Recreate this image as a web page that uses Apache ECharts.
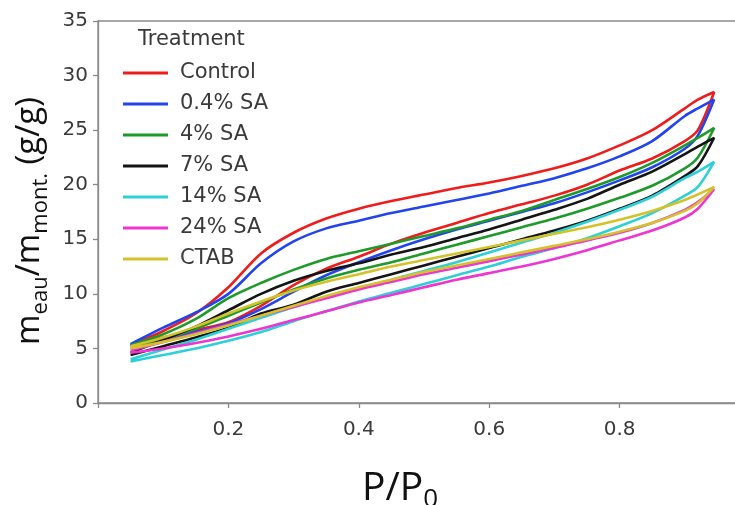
<!DOCTYPE html>
<html><head><meta charset="utf-8">
<script src="https://cdn.jsdelivr.net/npm/echarts@6/dist/echarts.min.js"></script>
<style>html,body{margin:0;padding:0;background:#fff}#c{width:735px;height:505px}</style>
</head><body><div id="c"></div>
<script>
// Relative pressure grid (P/P0)
const P = [0.05,0.1,0.15,0.2,0.25,0.3,0.35,0.4,0.45,0.5,0.55,0.6,0.65,0.7,0.75,0.8,0.85,0.9,0.92,0.945];
const names = ['Control','0.4% SA','4% SA','7% SA','14% SA','24% SA','CTAB'];
const colors = ['#f01c1c','#2244ee','#1e9a2a','#141414','#2cd0d6','#ee34d2','#d4c22a'];
// adsorption (lower) and desorption (upper) branches, g/g
const controlAds = [5.3,6.0,6.7,7.4,8.9,10.8,12.3,13.4,14.6,15.6,16.5,17.4,18.2,19.0,20.0,21.3,22.4,24.0,25.0,28.5];
const controlDes = [5.3,6.6,8.2,10.6,13.7,15.6,16.9,17.8,18.5,19.1,19.7,20.2,20.8,21.5,22.4,23.6,25.0,27.0,27.8,28.5];
const sa04Ads = [5.2,5.8,6.5,7.3,8.6,10.2,11.7,12.9,14.0,15.0,15.9,16.7,17.5,18.3,19.3,20.4,21.6,23.3,24.5,27.8];
const sa04Des = [5.4,6.9,8.3,10.0,12.8,14.8,16.0,16.7,17.4,18.0,18.6,19.2,19.9,20.6,21.5,22.6,24.0,26.3,27.0,27.8];
const sa4Ads = [5.0,5.8,6.8,8.0,9.2,10.4,11.4,12.2,12.9,13.7,14.5,15.3,16.1,16.9,17.8,18.8,19.9,21.5,22.5,25.2];
const sa4Des = [5.3,6.3,7.7,9.6,11.0,12.2,13.2,13.9,14.6,15.3,16.0,16.8,17.6,18.6,19.6,20.7,22.0,23.6,24.3,25.2];
const sa7Ads = [4.4,5.2,6.0,6.9,8.2,9.0,10.2,11.0,11.8,12.6,13.4,14.2,15.0,15.8,16.7,17.8,19.0,20.8,21.7,24.3];
const sa7Des = [4.6,5.8,7.0,8.5,10.0,11.2,12.1,12.8,13.6,14.3,15.1,15.9,16.8,17.7,18.7,20.0,21.2,22.8,23.5,24.3];
const sa14Ads = [3.8,4.4,5.0,5.7,6.5,7.5,8.4,9.3,10.1,10.9,11.7,12.5,13.4,14.2,15.1,16.2,17.4,19.0,19.8,22.1];
const sa14Des = [4.0,4.9,5.8,6.8,7.8,8.8,9.7,10.5,11.3,12.1,12.9,13.8,14.7,15.6,16.6,17.7,18.9,20.6,21.2,22.1];
const sa24Ads = [4.6,5.0,5.5,6.1,6.8,7.6,8.4,9.2,9.9,10.6,11.3,11.9,12.5,13.2,14.0,14.9,15.8,17.0,17.8,19.6];
const sa24Des = [4.8,5.6,6.4,7.2,8.0,8.8,9.6,10.4,11.1,11.8,12.4,13.0,13.6,14.2,14.9,15.6,16.5,17.7,18.4,19.6];
const ctabAds = [5.0,5.6,6.3,7.1,8.0,8.9,9.8,10.6,11.3,12.0,12.6,13.2,13.8,14.4,15.0,15.7,16.5,17.6,18.3,19.8];
const ctabDes = [5.2,6.0,7.0,8.2,9.3,10.3,11.1,11.8,12.5,13.1,13.7,14.3,14.9,15.5,16.1,16.8,17.6,18.6,19.1,19.8];
const adsAll = [controlAds,sa04Ads,sa4Ads,sa7Ads,sa14Ads,sa24Ads,ctabAds];
const desAll = [controlDes,sa04Des,sa4Des,sa7Des,sa14Des,sa24Des,ctabDes];
const yTicks = [0,5,10,15,20,25,30,35];
const xTickLabels = ['0.2','0.4','0.6','0.8'];

function loop(ads, des){
  const pts = P.map((p,i)=>[p, ads[i]]);
  for (let i = P.length-2; i >= 0; i--) pts.push([P[i], des[i]]);
  return pts;
}

const TICKFONT = 'DejaVu Sans';
const chart = echarts.init(document.getElementById('c'), null, {renderer:'canvas'});
chart.setOption({
  animation:false,
  backgroundColor:'#ffffff',
  grid:{left:98, top:21, width:652, height:382, show:true, borderColor:'#8a8a8a', borderWidth:1.3,
        containLabel:false, outerBoundsMode:'none'},
  xAxis:{type:'value', min:0, max:1, interval:0.2,
    name:'{a|P/P}{s|0}', nameLocation:'middle', nameGap:62,
    nameTextStyle:{padding:[0,48,0,0], rich:{a:{fontFamily:'Open Sans', fontSize:39, color:'#111', lineHeight:48, verticalAlign:'middle'},
                         s:{fontFamily:'Open Sans', fontSize:26, color:'#111', verticalAlign:'bottom'}}},
    axisLine:{show:true, lineStyle:{color:'#8a8a8a', width:1.3}},
    axisTick:{show:true, length:5, lineStyle:{color:'#8a8a8a', width:1.3}},
    splitLine:{show:false},
    axisLabel:{margin:17, fontFamily:TICKFONT, fontSize:20, color:'#3a3a3a',
      formatter:v=>{const s=v.toFixed(1); return xTickLabels.indexOf(s)>=0?s:'';}}
  },
  yAxis:{type:'value', min:yTicks[0], max:yTicks[yTicks.length-1], interval:5,
    name:'{a|m}{s|eau}{a|/m}{s|mont.}{a| (g/g)}', nameLocation:'middle', nameGap:44, nameRotate:90,
    nameTextStyle:{padding:[0,18,0,0], rich:{a:{fontFamily:'Open Sans', fontSize:33, color:'#111', lineHeight:44, verticalAlign:'middle'},
                         s:{fontFamily:'Open Sans', fontSize:22, color:'#111', verticalAlign:'bottom'}}},
    axisLine:{show:true, lineStyle:{color:'#8a8a8a', width:1.3}},
    axisTick:{show:true, length:5, lineStyle:{color:'#8a8a8a', width:1.3}},
    splitLine:{show:false},
    axisLabel:{margin:10, fontFamily:TICKFONT, fontSize:20, color:'#3a3a3a'}
  },
  legend:{left:118, top:57, orient:'vertical', icon:'rect', itemWidth:45, itemHeight:3, itemGap:9,
    data:names,
    textStyle:{fontFamily:TICKFONT, fontSize:21, color:'#3a3a3a', lineHeight:22, padding:[0,0,0,7]}},
  graphic:[{type:'text', left:138, top:29, style:{text:'Treatment', font:'21px "DejaVu Sans"', fill:'#3a3a3a'}}],
  series: names.map((n,i)=>({
    name:n, type:'line', data:loop(adsAll[i], desAll[i]), showSymbol:false, smooth:0.3,
    color:colors[i], lineStyle:{width:2.6, color:colors[i]}, clip:true
  }))
});
</script></body></html>
